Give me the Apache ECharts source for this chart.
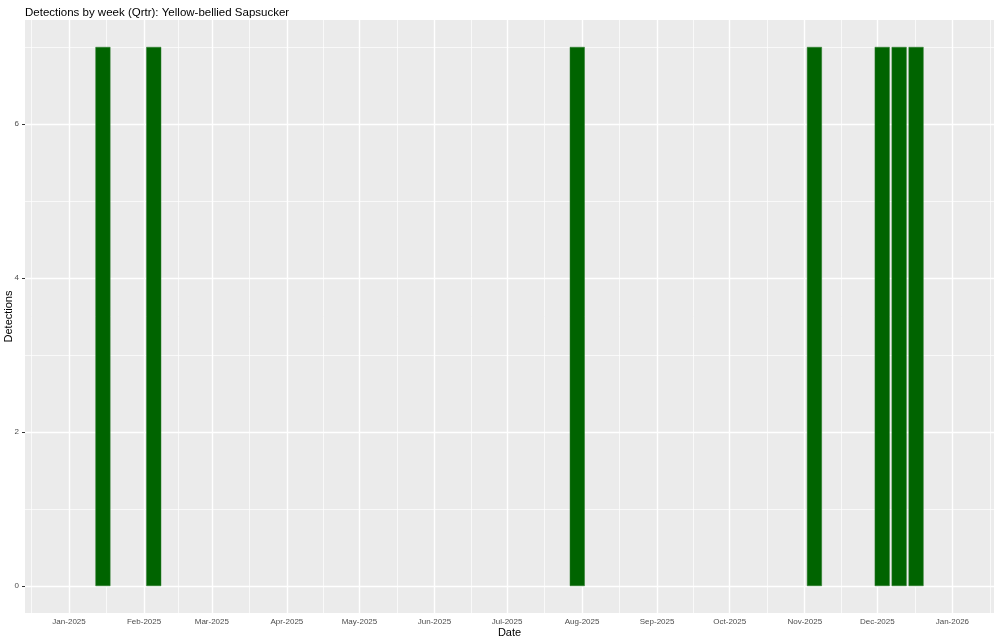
<!DOCTYPE html>
<html>
<head>
<meta charset="utf-8">
<script src="https://cdn.jsdelivr.net/npm/echarts@6/dist/echarts.min.js"></script>
<style>html,body{margin:0;padding:0;background:#fff}#c{width:1000px;height:642px}</style>
</head>
<body>
<div id="c"></div>
<script>
const title = "Detections by week (Qrtr): Yellow-bellied Sapsucker";
const weeks = ["2025-01-15","2025-02-05","2025-07-30","2025-11-05","2025-12-03","2025-12-10","2025-12-17"];
const detections = [7,7,7,7,7,7,7];
const monthTicks = ["2025-01-01","2025-02-01","2025-03-01","2025-04-01","2025-05-01","2025-06-01","2025-07-01","2025-08-01","2025-09-01","2025-10-01","2025-11-01","2025-12-01","2026-01-01"];
const yMajor = [0,2,4,6];
const yMinor = [1,3,5,7];
const xLimits = ["2025-01-01","2025-12-31"];
const yLimits = [0,7];

const DAY = 86400000;
const ts = s => Date.parse(s + "T00:00:00Z");
const MON = ["Jan","Feb","Mar","Apr","May","Jun","Jul","Aug","Sep","Oct","Nov","Dec"];
const fmt = v => { const d = new Date(v); return MON[d.getUTCMonth()] + "-" + d.getUTCFullYear(); };

// ggplot-like 5% expansion
const x0 = ts(xLimits[0]), x1 = ts(xLimits[1]);
const xPad = (x1 - x0) * 0.05;
const yPad = (yLimits[1] - yLimits[0]) * 0.05;

const monthTs = monthTicks.map(ts);
const minorTs = [];
minorTs.push(monthTs[0] - 15.5*DAY);
for (let i = 0; i < monthTs.length - 1; i++) minorTs.push((monthTs[i] + monthTs[i+1]) / 2);
minorTs.push(monthTs[monthTs.length-1] + 15.5*DAY);

const majorStyle = {color:'#ffffff', width:1.4, type:'solid'};
const minorStyle = {color:'#ffffff', width:0.7, type:'solid'};
const gridLines = [];
minorTs.forEach(t => gridLines.push({xAxis:t, lineStyle:minorStyle}));
yMinor.forEach(v => gridLines.push({yAxis:v, lineStyle:minorStyle}));
monthTs.forEach(t => gridLines.push({xAxis:t, lineStyle:majorStyle}));
yMajor.forEach(v => gridLines.push({yAxis:v, lineStyle:majorStyle}));

const chart = echarts.init(document.getElementById('c'), null, {renderer:'canvas'});
const FONT = "Liberation Sans, Arial, sans-serif";
chart.setOption({
  animation:false,
  backgroundColor:'#ffffff',
  textStyle:{fontFamily:FONT},
  title:{text:title, left:20, top:2, textStyle:{fontSize:11.5, fontWeight:'normal', color:'#000', fontFamily:FONT}},
  grid:{left:25, right:6, top:20, bottom:29, show:true, backgroundColor:'#EBEBEB', borderWidth:0, containLabel:false, outerBoundsMode:'none'},
  xAxis:{
    type:'value', min:x0 - xPad, max:x1 + xPad,
    name:'Date', nameLocation:'middle', nameGap:14, nameMoveOverlap:false,
    nameTextStyle:{fontSize:11, color:'#000', fontFamily:FONT},
    axisLine:{show:false},
    axisTick:{show:true, length:3, lineStyle:{color:'#333333', width:1}, customValues:monthTs},
    axisLabel:{fontSize:8, color:'#4D4D4D', margin:5, customValues:monthTs, formatter:v => fmt(v), hideOverlap:false},
    splitLine:{show:false}
  },
  yAxis:{
    type:'value', min:yLimits[0] - yPad, max:yLimits[1] + yPad,
    name:'Detections', nameLocation:'middle', nameGap:11, nameRotate:90, nameMoveOverlap:false,
    nameTextStyle:{fontSize:11, color:'#000', fontFamily:FONT},
    axisLine:{show:false},
    axisTick:{show:true, length:3, lineStyle:{color:'#333333', width:1}, customValues:yMajor},
    axisLabel:{fontSize:8, color:'#4D4D4D', margin:6, customValues:yMajor},
    splitLine:{show:false}
  },
  series:[
    {type:'line', data:[], silent:true, z:1,
     markLine:{silent:true, symbol:['none','none'], label:{show:false}, z:1, data:gridLines}},
    {type:'bar', z:3, barWidth:15,
     itemStyle:{color:'#006400', borderColor:'#2a7a2a', borderWidth:0.5},
     data: weeks.map((w,i) => [ts(w), detections[i]])}
  ]
});
</script>
</body>
</html>
